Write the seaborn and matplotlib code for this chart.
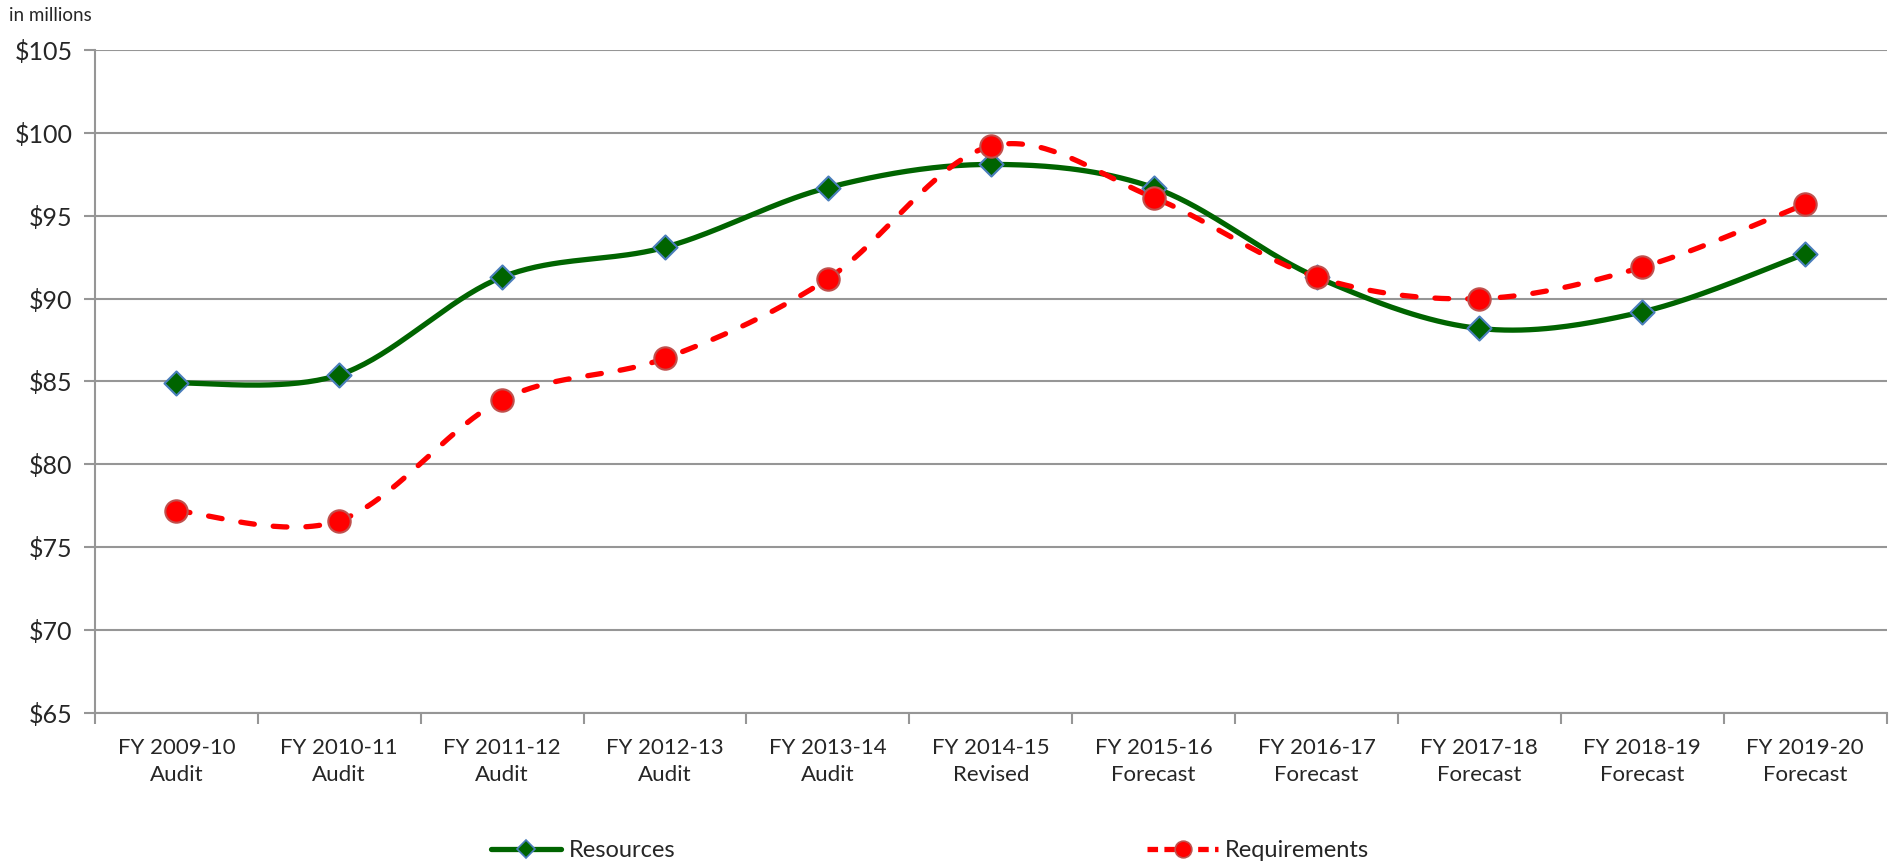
import numpy as np
import pandas as pd
import matplotlib
matplotlib.use("Agg")
import matplotlib.pyplot as plt
import seaborn as sns
from matplotlib.lines import Line2D

categories = ["FY 2009-10\nAudit", "FY 2010-11\nAudit", "FY 2011-12\nAudit", "FY 2012-13\nAudit",
              "FY 2013-14\nAudit", "FY 2014-15\nRevised", "FY 2015-16\nForecast", "FY 2016-17\nForecast",
              "FY 2017-18\nForecast", "FY 2018-19\nForecast", "FY 2019-20\nForecast"]
resources = [84.9, 85.4, 91.3, 93.1, 96.7, 98.1, 96.7, 91.3, 88.2, 89.2, 92.7]
requirements = [77.2, 76.6, 83.9, 86.4, 91.2, 99.2, 96.1, 91.3, 90.0, 91.9, 95.7]
yticks = [65, 70, 75, 80, 85, 90, 95, 100, 105]

sns.set_theme(style="white")
plt.rcParams['font.family'] = ['Lato', 'DejaVu Sans']

def smooth(x, y, n=40):
    # Excel-style smoothing: cubic Bezier with Catmull-Rom control points
    x = np.asarray(x, float); y = np.asarray(y, float)
    px = np.concatenate([[x[0]], x, [x[-1]]]); py = np.concatenate([[y[0]], y, [y[-1]]])
    xs, ys = [], []
    t = np.linspace(0, 1, n)
    for i in range(len(x) - 1):
        p0 = np.array([x[i], y[i]]); p3 = np.array([x[i+1], y[i+1]])
        p1 = p0 + (np.array([px[i+2], py[i+2]]) - np.array([px[i], py[i]])) / 6
        p2 = p3 - (np.array([px[i+3], py[i+3]]) - np.array([px[i+1], py[i+1]])) / 6
        b = ((1-t)**3)[:, None]*p0 + (3*(1-t)**2*t)[:, None]*p1 + (3*(1-t)*t**2)[:, None]*p2 + (t**3)[:, None]*p3
        xs.append(b[:, 0]); ys.append(b[:, 1])
    return np.concatenate(xs), np.concatenate(ys)

fig = plt.figure(figsize=(18.98, 8.64), dpi=100)
ax = fig.add_axes([0.050, 0.175, 0.944, 0.767])

xi = np.arange(len(categories))
df = pd.DataFrame({"x": xi, "Resources": resources, "Requirements": requirements})

green = "#006400"
red = "#ff0000"

sx, sy = smooth(xi, resources)
ax.plot(sx, sy, color=green, lw=3.8, zorder=3, solid_capstyle='round')
sx, sy = smooth(xi, requirements)
ax.plot(sx, sy, color=red, lw=3.8, zorder=3, dashes=(2.6, 3.6), dash_capstyle='round')

sns.scatterplot(data=df, x="x", y="Resources", marker="D", s=150, color=green,
                edgecolor="#4a7ebb", linewidth=1.5, ax=ax, zorder=5, legend=False)
sns.scatterplot(data=df, x="x", y="Requirements", marker="o", s=260, color=red,
                edgecolor="#c0504d", linewidth=1.5, ax=ax, zorder=5, legend=False)

ax.set_xlim(-0.5, len(categories) - 0.5)
ax.set_ylim(65, 105)
ax.set_yticks(yticks)
ax.set_yticklabels([f"${v}" for v in yticks], fontsize=18)
ax.set_xticks(xi)
ax.set_xticklabels(categories, fontsize=16, linespacing=1.45)
ax.set_xticks(np.arange(-0.5, len(categories)), minor=True)
ax.tick_params(axis='x', which='major', length=0, pad=18)
ax.tick_params(axis='x', which='minor', length=8, width=1.5, color="#969696", direction='out', bottom=True)
ax.tick_params(axis='y', which='major', length=8, width=1.5, color="#969696", direction='out', left=True, pad=8)
ax.set_xlabel(""); ax.set_ylabel("")

ax.grid(axis='y', color="#969696", lw=1.5)
ax.set_axisbelow(True)
for s in ["top", "right"]:
    ax.spines[s].set_visible(False)
for s in ["left", "bottom"]:
    ax.spines[s].set_color("#969696")
    ax.spines[s].set_linewidth(1.5)

fig.text(0.005, 0.982, "in millions", fontsize=13.5, va='center', ha='left')

handles = [
    Line2D([0], [0], color=green, lw=3.8, marker="D", markersize=9, markerfacecolor=green,
           markeredgecolor="#4a7ebb", markeredgewidth=1.2),
    Line2D([0], [0], color=red, lw=3.8, dashes=(2, 1.2), marker="o", markersize=12,
           markerfacecolor=red, markeredgecolor="#c0504d", markeredgewidth=1.2),
]
fig.legend(handles, ["Resources", "Requirements"], loc='center', bbox_to_anchor=(0.49, 0.0155),
           ncol=2, frameon=False, fontsize=17, columnspacing=20, handlelength=3.0, handletextpad=0.3)

fig.savefig("out.png", dpi=100)
